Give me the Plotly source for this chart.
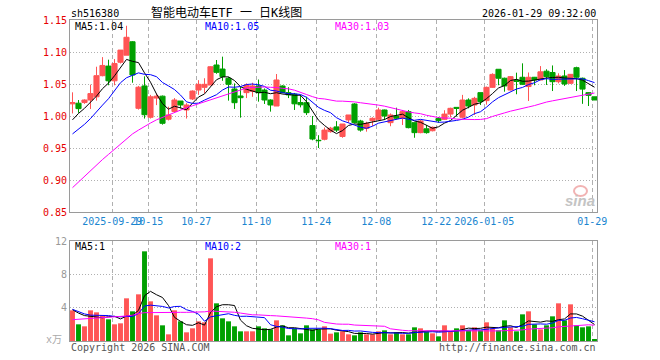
import plotly.graph_objects as go
import pandas as pd

# ---------------- data ----------------
dates = (
    ["2025-09-%s" % d for d in ["18", "19", "22", "23", "24", "25", "26", "29", "30"]]
    + ["2025-10-%s" % d for d in ["09", "10", "13", "14", "15", "16", "17", "20", "21", "22", "23", "24", "27", "28", "29", "30", "31"]]
    + ["2025-11-%s" % d for d in ["03", "04", "05", "06", "07", "10", "11", "12", "13", "14", "17", "18", "19", "20", "21", "24", "25", "26", "27", "28"]]
    + ["2025-12-%s" % d for d in ["01", "02", "03", "04", "05", "08", "09", "10", "11", "12", "15", "16", "17", "18", "19", "22", "23", "24", "25", "26", "29", "30", "31"]]
    + ["2026-01-%s" % d for d in ["05", "06", "07", "08", "09", "12", "13", "14", "15", "16", "19", "20", "21", "22", "23", "26", "27", "28", "29"]]
)

open_ = [1.019, 1.020, 1.021, 1.025, 1.030, 1.063, 1.078, 1.055, 1.084, 1.095,
         1.116, 1.012, 1.047, 0.998, 1.028, 1.031, 0.995, 1.007, 1.0234, 1.0094,
         1.0266, 1.0406, 1.0448, 1.0484, 1.0797, 1.0734, 1.0589, 1.0422, 1.0313, 1.0365,
         1.0385, 1.0469, 1.0406, 1.025, 1.0156, 1.0469, 1.0365, 1.034, 1.021, 1.0208,
         0.985, 0.962, 0.9636, 0.9755, 0.983, 0.968, 0.9938, 1.0188, 0.9922, 0.9807,
         0.9927, 0.9948, 1.0094, 0.9896, 1.000, 0.9964, 1.0068, 0.9896, 0.974, 0.980,
         0.977, 0.996, 0.9948, 1.003, 1.0135, 0.998, 1.025, 1.0172, 1.0365, 1.024,
         1.0448, 1.073, 1.059, 1.0406, 1.056, 1.0605, 1.046, 1.0605, 1.0563, 1.070,
         1.068, 1.0536, 1.0625, 1.0511, 1.0755, 1.059, 1.0365, 1.030]
high = [1.037, 1.025, 1.026, 1.049, 1.077, 1.092, 1.088, 1.089, 1.103, 1.141,
        1.117, 1.047, 1.062, 1.033, 1.035, 1.032, 1.0146, 1.028, 1.0234, 1.020,
        1.040, 1.056, 1.059, 1.078, 1.0875, 1.0927, 1.061, 1.051, 1.0458, 1.051,
        1.052, 1.057, 1.043, 1.026, 1.0656, 1.048, 1.045, 1.036, 1.033, 1.030,
        1.000, 0.970, 0.982, 0.983, 0.992, 0.9875, 1.0016, 1.020, 0.994, 0.991,
        0.998, 1.013, 1.010, 1.004, 1.013, 1.0094, 1.0094, 0.9896, 0.994, 0.986,
        0.9835, 0.9985, 1.009, 1.013, 1.0135, 1.033, 1.0276, 1.030, 1.0365, 1.046,
        1.0667, 1.073, 1.060, 1.0625, 1.0677, 1.0823, 1.068, 1.061, 1.078, 1.073,
        1.079, 1.0667, 1.0718, 1.0655, 1.077, 1.060, 1.037, 1.030]
low = [1.004, 1.005, 1.019, 1.011, 1.024, 1.062, 1.048, 1.048, 1.082, 1.095,
       1.052, 1.010, 0.996, 0.996, 1.017, 0.9865, 0.993, 1.005, 1.012, 0.996,
       1.025, 1.033, 1.036, 1.0484, 1.066, 1.055, 1.024, 1.011, 0.9974, 1.028,
       1.030, 1.0224, 1.0188, 1.0068, 1.0156, 1.0355, 1.028, 1.0094, 1.0135, 1.0016,
       0.962, 0.950, 0.962, 0.974, 0.975, 0.966, 0.9891, 0.9885, 0.9755, 0.9755,
       0.9844, 0.994, 0.9937, 0.984, 0.995, 0.9859, 0.9807, 0.966, 0.973, 0.9724,
       0.976, 0.9895, 0.994, 0.998, 0.999, 0.9964, 1.012, 1.0016, 1.0172, 1.0177,
       1.044, 1.048, 1.038, 1.040, 1.034, 1.0485, 1.0234, 1.048, 1.056, 1.0485,
       1.039, 1.051, 1.047, 1.050, 1.039, 1.019, 1.0156, 1.025]
close = [1.021, 1.0115, 1.025, 1.035, 1.063, 1.079, 1.055, 1.082, 1.103, 1.123,
         1.064, 1.045, 1.002, 1.030, 1.031, 0.9886, 1.0016, 1.025, 1.0172, 1.0172,
         1.039, 1.0495, 1.0495, 1.077, 1.0682, 1.0615, 1.0495, 1.0208, 1.0286, 1.0484,
         1.047, 1.0365, 1.025, 1.0172, 1.0563, 1.0365, 1.033, 1.019, 1.0175, 1.0052,
         0.964, 0.9615, 0.978, 0.981, 0.978, 0.9875, 1.0016, 0.9896, 0.978, 0.9885,
         0.9964, 1.0094, 1.000, 1.0016, 0.9964, 1.0068, 0.9818, 0.974, 0.9922, 0.974,
         0.9823, 0.993, 1.003, 1.012, 1.012, 1.025, 1.0156, 1.0276, 1.0224, 1.0448,
         1.065, 1.059, 1.047, 1.0615, 1.054, 1.0495, 1.0605, 1.0563, 1.069, 1.0615,
         1.0536, 1.0625, 1.050, 1.0651, 1.0605, 1.042, 1.0323, 1.025]
volume = [3.68, 2.0, 1.76, 3.68, 3.44, 3.08, 2.6, 2.0, 2.12, 5.12,
          3.56, 5.6, 10.76, 4.76, 3.08, 1.88, 0.8, 3.68, 2.36, 1.04,
          1.52, 2.36, 2.24, 9.92, 4.52, 2.72, 2.36, 1.76, 1.16, 1.16,
          1.16, 1.76, 1.52, 1.4, 2.48, 1.88, 0.68, 1.52, 0.92, 1.88,
          1.4, 1.4, 1.76, 0.88, 1.04, 1.16, 0.8, 0.68, 1.04, 0.8,
          0.8, 1.16, 1.28, 0.8, 1.04, 0.8, 0.8, 1.64, 1.52, 1.16,
          0.92, 0.56, 1.88, 1.16, 1.52, 1.88, 1.28, 1.64, 1.28, 2.24,
          1.52, 1.28, 2.48, 1.64, 1.16, 3.2, 3.56, 2.0, 1.4, 1.88,
          2.96, 4.52, 2.48, 4.4, 1.88, 1.64, 1.76, 0.2]

# moving-average values before enough in-window history exists
ma5_head = [0.994, 1.004, 1.012, 1.021]
ma10_head = [0.972, 0.979, 0.987, 0.996, 1.007, 1.017, 1.027, 1.040, 1.052]
ma30_head = [0.888, 0.897, 0.906, 0.915, 0.924, 0.932, 0.940, 0.948, 0.956, 0.964,
             0.972, 0.978, 0.984, 0.989, 0.994, 0.998, 1.001, 1.005, 1.009, 1.013,
             1.016, 1.019, 1.022, 1.025, 1.028, 1.031, 1.034, 1.037, 1.040]
vma5_head = [3.76, 3.35, 3.05, 2.95]
vma10_head = [3.8, 3.5, 3.25, 3.1, 3.1, 3.1, 3.05, 2.95, 2.9]
vma30_head = [2.56, 2.6, 2.65, 2.7, 2.75, 2.8, 2.82, 2.85, 2.9, 3.0,
              3.1, 3.3, 3.4, 3.42, 3.43, 3.43, 3.43, 3.44, 3.44, 3.44,
              3.44, 3.44, 3.5, 3.6, 3.58, 3.55, 3.5, 3.45, 3.35]

tick_dates = ["2025-09-29", "2025-10-15", "2025-10-27", "2025-11-10", "2025-11-24",
              "2025-12-08", "2025-12-22", "2026-01-05", "2026-01-29"]
tick_labels = ["2025-09-29", "10-15", "10-27", "11-10", "11-24",
               "12-08", "12-22", "2026-01-05", "01-29"]
price_ticks = [0.85, 0.90, 0.95, 1.00, 1.05, 1.10, 1.15]
vol_ticks = [4, 8, 12]

title_code = "sh516380"
title_text = "智能电动车ETF 一 日K线图"
timestamp = "2026-01-29 09:32:00"
price_ma_text = ["MA5:1.04", "MA10:1.05", "MA30:1.03"]
vol_ma_text = ["MA5:1", "MA10:2", "MA30:1"]


# ---------------- helpers ----------------
def moving_avg(values, n, head):
    r = pd.Series(values).rolling(n).mean().tolist()
    return list(head) + r[len(head):]


x = list(range(len(dates)))
ma5 = moving_avg(close, 5, ma5_head)
ma10 = moving_avg(close, 10, ma10_head)
ma30 = moving_avg(close, 30, ma30_head)
vma5 = moving_avg(volume, 5, vma5_head)
vma10 = moving_avg(volume, 10, vma10_head)
vma30 = moving_avg(volume, 30, vma30_head)

UP = "#ff5555"
DN = "#00a000"
MA_COLORS = ["#000000", "#0000ff", "#ff00ff"]
GRID = "#b0b0b0"
FRAME = "#9a9a9a"
MONO = "DejaVu Sans Mono, Noto Sans CJK SC, monospace"

W, H = 660, 360
ML, MR, MT, MB = 70, 63, 20, 19
PW, PH = W - ML - MR, H - MT - MB


def px(xp):
    return (xp - ML) / PW


def py(yp):
    return (H - MB - yp) / PH


GRID_SHIFT = -0.37
tick_pos = [dates.index(d) + GRID_SHIFT for d in tick_dates]
vol_colors = [UP if c >= o else DN for o, c in zip(open_, close)]

fig = go.Figure()
fig.add_trace(go.Candlestick(
    x=x, open=open_, high=high, low=low, close=close,
    increasing=dict(line=dict(color=UP, width=1), fillcolor=UP),
    decreasing=dict(line=dict(color=DN, width=1), fillcolor=DN),
    whiskerwidth=0, hoverinfo="skip", showlegend=False,
    xaxis="x", yaxis="y"))
for ser, col in zip([ma5, ma10, ma30], MA_COLORS):
    fig.add_trace(go.Scatter(x=x, y=ser, mode="lines", line=dict(color=col, width=1),
                             hoverinfo="skip", showlegend=False, xaxis="x", yaxis="y"))

fig.add_trace(go.Bar(x=x, y=volume, marker=dict(color=vol_colors, line=dict(width=0)),
                     width=0.82, hoverinfo="skip", showlegend=False, xaxis="x2", yaxis="y2"))
for ser, col in zip([vma5, vma10, vma30], MA_COLORS):
    fig.add_trace(go.Scatter(x=x, y=ser, mode="lines", line=dict(color=col, width=1),
                             hoverinfo="skip", showlegend=False, xaxis="x2", yaxis="y2"))

xr = [-2.5 / 6, -2.5 / 6 + PW / 6]
price_dom = [py(212), 1]
vol_dom = [0, py(241)]

common_x = dict(range=xr, tickvals=tick_pos, ticktext=tick_labels, showgrid=True,
                gridcolor=GRID, griddash="4px,3px", gridwidth=1, showline=True,
                mirror=True, linecolor=FRAME, linewidth=1, ticks="", zeroline=False,
                fixedrange=True, tickangle=0, automargin=False)

fig.update_layout(
    width=W, height=H,
    margin=dict(l=ML, r=MR, t=MT, b=MB, pad=0),
    paper_bgcolor="white", plot_bgcolor="white",
    boxgap=0.15, boxgroupgap=0, bargap=0.15,
    xaxis=dict(domain=[0, 1], anchor="y", rangeslider=dict(visible=False),
               tickfont=dict(family=MONO, size=10, color="#1a86d0"), **common_x),
    xaxis2=dict(domain=[0, 1], anchor="y2", showticklabels=False, **common_x),
    yaxis=dict(domain=price_dom, anchor="x", range=[price_ticks[0], price_ticks[-1]],
               tickvals=price_ticks, ticktext=["%.2f" % v for v in price_ticks],
               showgrid=True, gridcolor=GRID, griddash="1px,2px", showline=True,
               mirror=True, linecolor=FRAME, linewidth=1, ticks="", zeroline=False,
               automargin=False,
               tickfont=dict(family=MONO, size=10, color="#e60000"), fixedrange=True),
    yaxis2=dict(domain=vol_dom, anchor="x2", range=[0, vol_ticks[-1]],
                tickvals=vol_ticks, ticktext=[str(v) for v in vol_ticks],
                showgrid=True, gridcolor=GRID, griddash="1px,2px", showline=True,
                mirror=True, linecolor=FRAME, linewidth=1, ticks="", zeroline=False,
                automargin=False,
                tickfont=dict(family=MONO, size=10, color="#999999"), fixedrange=True),
)

ann = []


def text(t, xp, yp, color="#000000", anchor="left", size=10, family=MONO, **kw):
    ann.append(dict(text=t, x=px(xp), y=py(yp), xref="paper", yref="paper",
                    xanchor=anchor, yanchor="middle", showarrow=False,
                    font=dict(family=family, size=size, color=color), **kw))


text(title_code, 69, 13)
text(title_text, 149, 12, size=12)
text(timestamp, 598, 13, anchor="right")
for t, xp, col in zip(price_ma_text, [73, 203, 333], MA_COLORS):
    text(t, xp, 26, color=col)
for t, xp, col in zip(vol_ma_text, [73, 203, 333], MA_COLORS):
    text(t, xp, 246, color=col)
text("x万", 64, 339, color="#aaaaaa", anchor="right")
text("Copyright 2026 SINA.COM", 69, 347, color="#555555")
text("http://finance.sina.com.cn", 598, 347, color="#555555", anchor="right")
text("<b><i>sina</i></b>", 597, 201, color="#c4c4c4", anchor="right", size=15,
     family="Liberation Sans, Arial")
fig.update_layout(annotations=ann)
fig.add_shape(type="circle", xref="paper", yref="paper",
              x0=px(574), x1=px(587), y0=py(196), y1=py(186),
              line=dict(color="#f2b3b3", width=2), fillcolor="rgba(0,0,0,0)")

fig.write_html("out.html", config={"displayModeBar": False},
               post_script="document.body.style.margin='0';")
